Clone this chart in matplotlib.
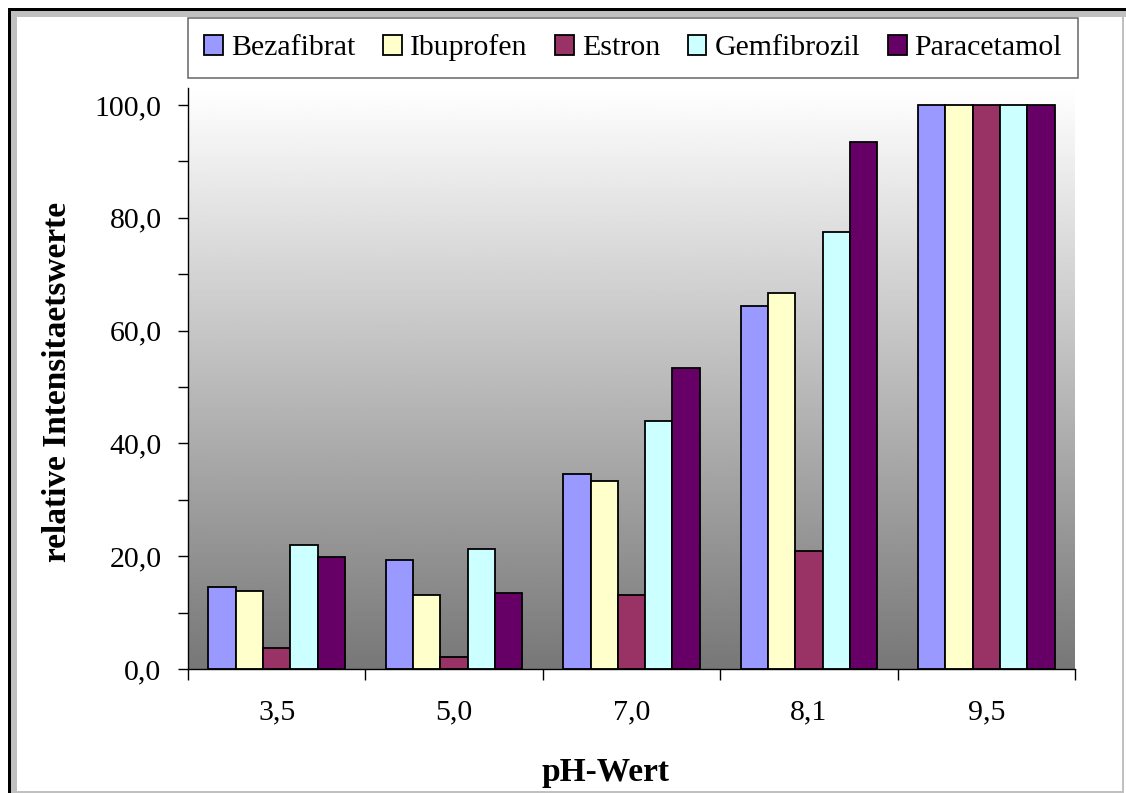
import numpy as np
import matplotlib
matplotlib.use("Agg")
import matplotlib.pyplot as plt
from matplotlib.patches import Rectangle

plt.rcParams['font.family'] = ['Liberation Serif', 'DejaVu Serif']

categories = ['3,5', '5,0', '7,0', '8,1', '9,5']
bezafibrat = [14.5, 19.3, 34.5, 64.4, 100.0]
ibuprofen = [13.9, 13.2, 33.3, 66.7, 100.0]
estron = [3.7, 2.1, 13.2, 21.0, 100.0]
gemfibrozil = [22.0, 21.2, 44.0, 77.4, 100.0]
paracetamol = [19.9, 13.5, 53.3, 93.4, 100.0]

series = [("Bezafibrat", bezafibrat, "#9999FF"),
          ("Ibuprofen", ibuprofen, "#FFFFCC"),
          ("Estron", estron, "#993366"),
          ("Gemfibrozil", gemfibrozil, "#CCFFFF"),
          ("Paracetamol", paracetamol, "#660066")]

W, H = 1126, 793
fig = plt.figure(figsize=(W / 100, H / 100), dpi=100)


def box(x, y, w, h):
    # pixel box (top-left origin) -> figure fraction
    return (x / W, 1 - (y + h) / H), w / W, h / H


# window-like frame
for (x, y, w, h), c in [((8, 8, 3, 785), "black"), ((8, 8, 1118, 3), "black"),
                        ((11, 11, 6, 782), "#c0c0c0"), ((11, 11, 1115, 6), "#c0c0c0"),
                        ((1122, 17, 2, 776), "#c0c0c0"), ((11, 791, 1113, 2), "#c0c0c0")]:
    xy, ww, hh = box(x, y, w, h)
    fig.add_artist(Rectangle(xy, ww, hh, transform=fig.transFigure, color=c, lw=0))

ax = fig.add_axes([188 / W, (H - 669) / H, (1075 - 188) / W, (669 - 88) / H])
ymax = 103.0

# background gradient
grad = np.linspace(1, 0, 256).reshape(-1, 1)
ax.imshow(grad, extent=(-0.5, 4.5, 0, ymax), aspect='auto', cmap='gray',
          vmin=-0.88, vmax=1.0, zorder=0)

x = np.arange(len(categories))
bw = 1 / 6.5
for i, (name, vals, col) in enumerate(series):
    ax.bar(x + (i - 2) * bw, vals, bw, color=col, edgecolor='black',
           linewidth=1.3, label=name, zorder=2)

ax.set_xlim(-0.5, 4.5)
ax.set_ylim(0, ymax)
for s in ['top', 'right']:
    ax.spines[s].set_visible(False)
for s in ['left', 'bottom']:
    ax.spines[s].set_linewidth(1.0)

ax.set_yticks(np.arange(0, 101, 20))
ax.set_yticklabels([f"{v:.1f}".replace('.', ',') for v in range(0, 101, 20)])
ax.set_yticks(np.arange(10, 101, 20), minor=True)
ax.tick_params(axis='y', which='both', direction='out', length=7.5, width=1.0,
               pad=11.5, labelsize=21.5)

ax.set_xticks(x)
ax.set_xticklabels(categories)
ax.set_xticks(np.arange(-0.5, 4.6, 1), minor=True)
ax.tick_params(axis='x', which='major', length=0, pad=22, labelsize=21.5)
ax.tick_params(axis='x', which='minor', direction='out', length=8, width=1.0)

fig.text(605 / W, 1 - 773 / H, "pH-Wert", ha='center', va='center',
         fontsize=24, fontweight='bold')
fig.text(58 / W, 1 - 382 / H, "relative Intensitaetswerte", ha='center', va='center',
         rotation=90, fontsize=24, fontweight='bold')

leg = fig.legend(loc='upper left', bbox_to_anchor=(188 / W, 1 - 18 / H), ncol=5,
                 fontsize=21.5, frameon=True, fancybox=False, borderaxespad=0,
                 handlelength=0.63, handleheight=0.63, handletextpad=0.27,
                 columnspacing=0.92, borderpad=0.55)
leg.get_frame().set_edgecolor('#404040')
leg.get_frame().set_linewidth(1.1)

fig.savefig("out.png", dpi=100)
